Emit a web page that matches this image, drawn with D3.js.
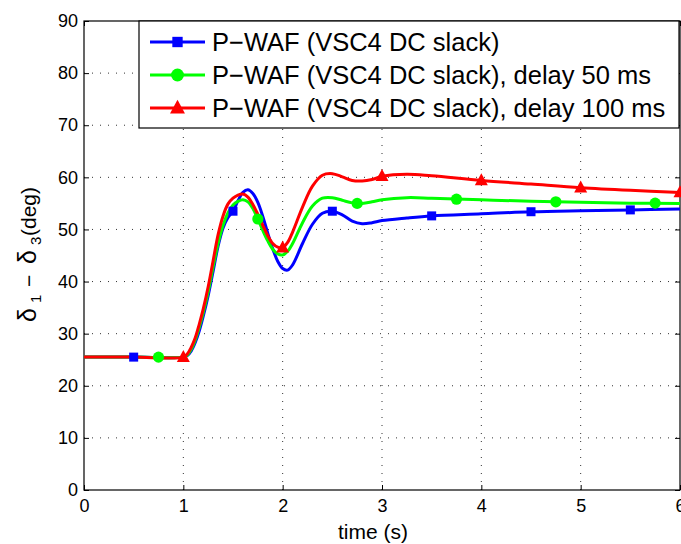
<!DOCTYPE html>
<html><head><meta charset="utf-8">
<script src="https://cdn.jsdelivr.net/npm/d3@7"></script>
<style>
body{margin:0;background:#fff;}
text{font-family:"Liberation Sans",Arial,Helvetica,sans-serif;fill:#000;}
</style></head>
<body><svg id="c" width="681" height="544"></svg>
<script>
const time = [0,0.5,1.0,1.04,1.08,1.12,1.16,1.2,1.25,1.3,1.35,1.4,1.45,1.5,1.55,1.6,1.65,1.7,1.75,1.8,1.85,1.9,1.95,2.0,2.05,2.1,2.2,2.3,2.4,2.5,2.6,2.7,2.8,2.9,3.0,3.25,3.5,4.0,4.5,5.0,5.5,6.0];
const blueVals = [25.5,25.5,25.5,25.8,26.7,28.3,30.5,33.3,37.3,42.0,46.8,50.3,52.3,53.5,55.5,57.1,57.6,56.9,55.2,52.5,49.3,46.3,43.9,42.5,42.2,43.2,47.3,51.0,53.1,53.5,52.8,51.6,51.1,51.3,51.7,52.2,52.6,53.0,53.4,53.6,53.75,53.9];
const greenVals = [25.5,25.5,25.5,25.9,27.0,28.8,31.2,34.0,38.0,42.8,47.3,50.8,53.2,54.7,55.4,55.7,55.3,54.0,52.0,49.8,47.8,46.2,45.3,45.1,45.8,47.3,51.3,54.5,56.0,56.1,55.6,55.1,55.0,55.3,55.7,56.1,56.0,55.7,55.4,55.2,55.05,55.0];
const redVals = [25.5,25.5,25.5,26.1,27.4,29.2,31.8,34.7,39.0,44.0,49.0,52.6,54.9,56.0,56.6,56.8,56.2,54.8,52.9,50.8,48.8,47.3,46.6,46.5,47.5,49.5,54.3,58.3,60.4,60.7,60.1,59.4,59.3,59.6,60.2,60.6,60.3,59.4,58.7,58.0,57.5,57.1];
const blueMarkT = [0.5,1.5,2.5,3.5,4.5,5.5];
const blueMarkV = [25.5,53.5,53.5,52.6,53.4,53.75];
const greenMarkT = [0.75,1.75,2.75,3.75,4.75,5.75];
const greenMarkV = [25.5,52.0,55.0,55.8,55.3,55.05];
const redMarkT = [1,2,3,4,5,6];
const redMarkV = [25.5,46.5,60.2,59.4,58.0,57.1];
const legendLabels = ["P\u2212WAF (VSC4 DC slack)","P\u2212WAF (VSC4 DC slack), delay 50 ms","P\u2212WAF (VSC4 DC slack), delay 100 ms"];
const xTicks = [0,1,2,3,4,5,6];
const yTicks = [0,10,20,30,40,50,60,70,80,90];

const L=84,R=680,T=21,B=490;
const svg=d3.select("#c");
const x=d3.scaleLinear().domain([0,6]).range([L,R]);
const y=d3.scaleLinear().domain([0,90]).range([B,T]);

// grid
const g=svg.append("g");
g.selectAll(".vg").data(xTicks.slice(1,-1)).enter().append("line")
 .attr("x1",d=>x(d)).attr("x2",d=>x(d)).attr("y1",B).attr("y2",T)
 .attr("stroke","#333").attr("stroke-width",1).attr("stroke-dasharray","1,7");
g.selectAll(".hg").data(yTicks.slice(1,-1)).enter().append("line")
 .attr("y1",d=>y(d)).attr("y2",d=>y(d)).attr("x1",L).attr("x2",R)
 .attr("stroke","#333").attr("stroke-width",1).attr("stroke-dasharray","1,7");

// axes
const fs="18px";
const fmt=d3.format("d");
const ax=svg.append("g").attr("transform",`translate(0,${B})`)
 .call(d3.axisBottom(x).tickValues(xTicks).tickFormat(fmt).tickSizeInner(-5).tickSizeOuter(0).tickPadding(9));
const ay=svg.append("g").attr("transform",`translate(${L},0)`)
 .call(d3.axisLeft(y).tickValues(yTicks).tickFormat(fmt).tickSizeInner(-5).tickSizeOuter(0).tickPadding(6));
const at=svg.append("g").attr("transform",`translate(0,${T})`)
 .call(d3.axisTop(x).tickValues(xTicks).tickSizeInner(-5).tickSizeOuter(0).tickFormat(""));
const ar=svg.append("g").attr("transform",`translate(${R},0)`)
 .call(d3.axisRight(y).tickValues(yTicks).tickSizeInner(-5).tickSizeOuter(0).tickFormat(""));
[ax,ay,at,ar].forEach(a=>{a.attr("font-family",null).attr("font-size",null);
 a.selectAll("text").style("font-size",fs).attr("fill","#000");
 a.select(".domain").remove(); a.selectAll("line").attr("stroke","#000");});
svg.append("rect").attr("x",L).attr("y",T).attr("width",R-L).attr("height",B-T)
 .attr("fill","none").attr("stroke","#000").attr("stroke-width",1.2);

// series
const series=[
 {vals:blueVals,color:"#0000ff",mt:blueMarkT,mv:blueMarkV,shape:"square"},
 {vals:greenVals,color:"#00ff00",mt:greenMarkT,mv:greenMarkV,shape:"circle"},
 {vals:redVals,color:"#ff0000",mt:redMarkT,mv:redMarkV,shape:"triangle"}
];
const line=d3.line().x(d=>x(d[0])).y(d=>y(d[1])).curve(d3.curveCatmullRom.alpha(0.5));
function marker(sel,shape,color,cx,cy,scale){
 if(shape==="square"){
  const s=9*scale; sel.append("rect").attr("x",cx-s/2).attr("y",cy-s/2).attr("width",s).attr("height",s).attr("fill",color);
 } else if(shape==="circle"){
  sel.append("circle").attr("cx",cx).attr("cy",cy).attr("r",5.6*scale).attr("fill",color);
 } else {
  const w=13*scale,h=12*scale;
  sel.append("path").attr("d",`M${cx},${cy-h*0.6}L${cx+w/2},${cy+h*0.4}L${cx-w/2},${cy+h*0.4}Z`).attr("fill",color);
 }
}
series.forEach(s=>{
 svg.append("path").datum(time.map((t,i)=>[t,s.vals[i]])).attr("d",line)
  .attr("fill","none").attr("stroke",s.color).attr("stroke-width",3).attr("stroke-linejoin","round");
});
series.forEach(s=>{
 const mg=svg.append("g");
 s.mt.forEach((t,i)=>marker(mg,s.shape,s.color,x(t),y(s.mv[i]),1));
});

// legend
const lg=svg.append("g");
lg.append("rect").attr("x",139).attr("y",T).attr("width",540).attr("height",107)
 .attr("fill","#fff").attr("stroke","#000").attr("stroke-width",1.2);
series.forEach((s,i)=>{
 const cy=42+i*33;
 lg.append("line").attr("x1",150).attr("x2",205).attr("y1",cy).attr("y2",cy).attr("stroke",s.color).attr("stroke-width",3);
 marker(lg,s.shape,s.color,177.5,cy,1.15);
 lg.append("text").attr("x",212).attr("y",cy).attr("dy","0.36em").style("font-size","25.5px").text(legendLabels[i]);
});

// labels
svg.append("text").attr("x",373).attr("y",539).attr("text-anchor","middle").style("font-size","21px").text("time (s)");
const yl=svg.append("text").attr("transform","translate(35.5,0) rotate(-90)").style("font-size","21px");
yl.append("tspan").attr("x",-322).style("font-size","25px").text("\u03b4");
yl.append("tspan").attr("x",-303).attr("dy",5).style("font-size","15px").text("1");
yl.append("tspan").attr("x",-287).attr("dy",-5).text("\u2212");
yl.append("tspan").attr("x",-264).style("font-size","25px").text("\u03b4");
yl.append("tspan").attr("x",-245).attr("dy",5).style("font-size","15px").text("3");
yl.append("tspan").attr("x",-236).attr("dy",-5).text("(deg)");
</script></body></html>
